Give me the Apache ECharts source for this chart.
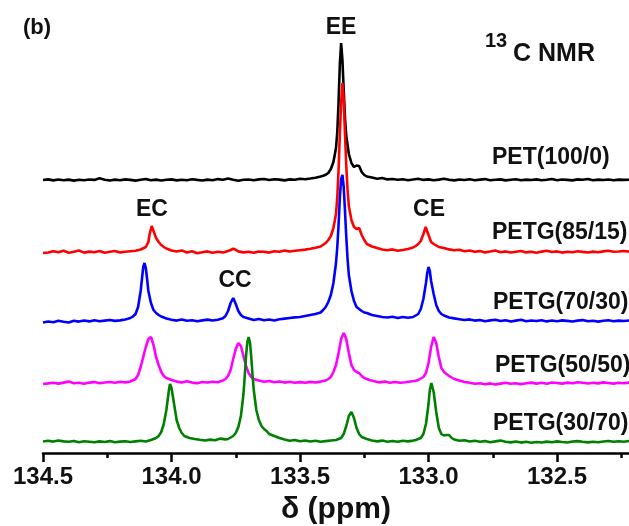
<!DOCTYPE html>
<html>
<head>
<meta charset="utf-8">
<script src="https://cdn.jsdelivr.net/npm/echarts@6.0.0/dist/echarts.min.js"></script>
<style>
html,body{margin:0;padding:0;background:#fff;}
#chart{width:629px;height:526px;}
</style>
</head>
<body>
<div id="chart"></div>
<script>
// ---- Data (ppm, intensity above each trace's own baseline) ----
const seriesNames = ['PET(100/0)', 'PETG(85/15)', 'PETG(70/30)', 'PETG(50/50)', 'PETG(30/70)'];
const offsets = [273, 201, 132, 70, 11];
const majorTicks = [134.5, 134.0, 133.5, 133.0, 132.5];
const minorTicks = [134.25, 133.75, 133.25, 132.75, 132.25];

const pet100 = [
[134.50,0],[134.48,0.6],[134.46,-0.4],[134.44,0.5],[134.42,-0.3],[134.40,0.4],[134.38,-0.6],[134.36,0.2],[134.34,-0.2],[134.32,0.5],[134.30,0.1],[134.28,1.8],[134.26,0.3],[134.24,-0.5],[134.22,0.4],[134.20,-0.2],[134.18,0.6],[134.16,0.1],[134.14,-0.6],[134.12,0.3],[134.10,1.0],[134.08,-0.3],[134.06,0.4],[134.04,-0.5],[134.02,0.2],[134.00,0.6],[133.98,-0.4],[133.96,0.3],[133.94,-0.2],[133.92,0.8],[133.90,0.1],[133.88,-0.5],[133.86,0.4],[133.84,-0.2],[133.82,0.9],[133.80,0.2],[133.78,1.4],[133.76,0.3],[133.74,-0.7],[133.72,0.2],[133.70,0.5],[133.68,-0.3],[133.66,0.6],[133.64,1.0],[133.62,0.0],[133.60,0.7],[133.58,0.4],[133.56,-0.4],[133.54,0.6],[133.52,0.2],[133.50,1.2],[133.48,0.8],[133.46,1.5],[133.44,2.3],[133.42,3.4],[133.41,4.2],[133.40,5.2],[133.39,7],[133.38,11],[133.37,18],[133.36,32],[133.355,48],[133.35,78],[133.345,116],[133.34,137],[133.335,120],[133.33,90],[133.325,62],[133.32,44],[133.31,26],[133.30,17],[133.29,13],[133.28,14.5],[133.275,16],[133.27,14],[133.26,8],[133.25,5],[133.24,3.5],[133.22,2.4],[133.20,1.2],[133.18,2.0],[133.16,0.6],[133.14,1.0],[133.12,0.2],[133.10,0.8],[133.08,-0.2],[133.06,0.5],[133.04,1.2],[133.02,0.1],[133.00,0.6],[132.98,-0.3],[132.96,0.4],[132.94,1.3],[132.92,0.2],[132.90,-0.4],[132.88,0.5],[132.86,0.0],[132.84,0.7],[132.82,-0.3],[132.80,0.4],[132.78,0.9],[132.76,-0.2],[132.74,0.3],[132.72,0.6],[132.70,-0.4],[132.68,0.2],[132.66,0.8],[132.64,-0.3],[132.62,0.4],[132.60,0.0],[132.58,0.6],[132.56,-0.3],[132.54,0.2],[132.52,1.0],[132.50,-0.2],[132.48,0.5],[132.46,0.1],[132.44,-0.4],[132.42,0.6],[132.40,0.2],[132.38,1.0],[132.36,-0.2],[132.34,0.4],[132.32,0.0],[132.30,0.5],[132.28,-0.3],[132.26,0.4],[132.24,0.1],[132.22,0.3]
];

const petg85 = [
[134.50,-1],[134.48,-0.5],[134.46,0.8],[134.44,-0.3],[134.42,1.2],[134.40,-0.8],[134.38,0.3],[134.36,1.5],[134.34,-0.6],[134.32,0.4],[134.30,-0.2],[134.28,0.9],[134.26,-0.7],[134.24,0.2],[134.22,1.0],[134.20,-0.4],[134.18,0.3],[134.16,0.8],[134.14,1.2],[134.12,2.5],[134.10,5],[134.09,10],[134.085,18],[134.077,26],[134.07,21],[134.06,14],[134.05,10],[134.04,7],[134.03,5],[134.02,3.5],[134.00,1.5],[133.98,0.4],[133.96,1.6],[133.94,-0.5],[133.92,0.8],[133.90,-1.2],[133.88,-0.3],[133.86,0.6],[133.84,-0.8],[133.82,0.2],[133.80,-0.5],[133.78,1.0],[133.77,2.0],[133.76,3.2],[133.75,2.2],[133.74,0.6],[133.72,-0.4],[133.70,0.3],[133.68,-0.8],[133.66,0.5],[133.64,0.2],[133.62,-0.6],[133.60,0.8],[133.58,0.2],[133.56,1.4],[133.54,0.5],[133.52,1.2],[133.50,1.8],[133.48,2.4],[133.46,3.2],[133.44,4.2],[133.42,5.5],[133.40,9],[133.39,12],[133.38,16],[133.37,24],[133.36,38],[133.355,55],[133.35,82],[133.345,118],[133.34,150],[133.335,169],[133.33,152],[133.325,118],[133.32,86],[133.315,62],[133.31,46],[133.30,32],[133.29,25],[133.28,23],[133.27,24],[133.265,22],[133.26,17],[133.25,12],[133.24,8],[133.22,5.5],[133.20,4],[133.18,2.5],[133.16,1.8],[133.14,2.6],[133.12,1.2],[133.10,2.0],[133.08,3.0],[133.06,4.5],[133.05,6],[133.04,8],[133.03,11],[133.02,18],[133.011,25],[133.00,17],[132.99,10],[132.98,8],[132.97,6.5],[132.96,5],[132.94,4],[132.92,2.6],[132.90,1.8],[132.88,2.2],[132.86,0.8],[132.84,1.5],[132.82,0.2],[132.80,0.9],[132.78,-0.4],[132.76,0.5],[132.74,1.5],[132.72,-0.2],[132.70,0.6],[132.68,-0.5],[132.66,0.3],[132.64,1.0],[132.62,-0.4],[132.60,0.2],[132.58,-0.8],[132.56,0.4],[132.54,1.2],[132.52,0.0],[132.50,0.6],[132.48,-0.6],[132.46,0.3],[132.44,-0.3],[132.42,0.8],[132.40,0.1],[132.38,-0.5],[132.36,0.4],[132.34,-0.2],[132.32,0.6],[132.30,1.2],[132.28,0.2],[132.26,0.5],[132.24,1.0],[132.22,0.4]
];

const petg70 = [
[134.50,-1.5],[134.48,-0.5],[134.46,-1.2],[134.44,0.2],[134.42,-0.8],[134.40,-1.5],[134.38,0.3],[134.36,-0.6],[134.34,0.5],[134.32,-0.4],[134.30,0.8],[134.28,-0.2],[134.26,0.4],[134.24,1.0],[134.22,0.1],[134.20,0.6],[134.18,1.5],[134.17,2.2],[134.16,3],[134.15,4.5],[134.14,7],[134.13,14],[134.12,30],[134.115,42],[134.11,54],[134.105,58],[134.10,53],[134.095,42],[134.09,30],[134.08,18],[134.07,11],[134.06,8],[134.05,6],[134.04,4.5],[134.03,3.6],[134.02,2.4],[134.00,1.2],[133.98,0.4],[133.96,1.5],[133.94,0.2],[133.92,0.8],[133.90,-0.3],[133.88,0.6],[133.86,1.4],[133.84,0.5],[133.82,1.2],[133.80,2.8],[133.79,5],[133.78,10],[133.77,18],[133.76,23],[133.75,17],[133.74,10],[133.73,6],[133.72,4],[133.70,2.5],[133.68,1.0],[133.66,2.0],[133.64,0.8],[133.62,1.5],[133.60,0.5],[133.58,1.8],[133.56,2.4],[133.54,3.0],[133.52,3.6],[133.50,4],[133.48,5],[133.46,6],[133.44,7],[133.42,8.5],[133.41,11],[133.40,14],[133.39,19],[133.38,26],[133.37,38],[133.36,58],[133.355,74],[133.35,96],[133.345,124],[133.34,142],[133.335,146],[133.33,134],[133.325,110],[133.32,84],[133.315,62],[133.31,46],[133.30,30],[133.29,20],[133.28,14],[133.27,12],[133.26,10],[133.25,8.5],[133.24,8],[133.22,6],[133.20,5],[133.18,4],[133.16,3.5],[133.14,4.2],[133.12,3],[133.10,4],[133.08,3.2],[133.06,4],[133.05,5.5],[133.04,7],[133.03,12],[133.02,22],[133.01,38],[133.005,48],[133.00,54],[132.995,50],[132.99,40],[132.98,27],[132.97,16],[132.96,10],[132.95,7],[132.94,5.5],[132.93,4.5],[132.92,3.5],[132.90,2.6],[132.88,1.8],[132.86,1.0],[132.84,1.6],[132.82,0.4],[132.80,1.0],[132.78,-0.2],[132.76,0.6],[132.74,1.3],[132.72,0.0],[132.70,0.7],[132.68,-0.5],[132.66,0.4],[132.64,1.2],[132.62,-0.3],[132.60,0.5],[132.58,0.0],[132.56,0.8],[132.54,-0.4],[132.52,0.5],[132.50,-0.2],[132.48,0.6],[132.46,0.1],[132.44,-0.5],[132.42,0.4],[132.40,0.9],[132.38,-0.3],[132.36,0.3],[132.34,-0.6],[132.32,0.2],[132.30,0.7],[132.28,-0.2],[132.26,0.4],[132.24,0.0],[132.22,0.5]
];

const petg50 = [
[134.50,-1],[134.48,-0.4],[134.46,0.3],[134.44,-0.6],[134.42,0.4],[134.40,1.4],[134.38,-0.3],[134.36,0.2],[134.34,-0.8],[134.32,0.4],[134.30,0.9],[134.28,-0.2],[134.26,0.5],[134.24,1.0],[134.22,0.2],[134.20,1.2],[134.18,0.6],[134.16,1.5],[134.14,4],[134.13,8],[134.12,16],[134.11,26],[134.10,36],[134.09,44],[134.08,46],[134.07,38],[134.06,26],[134.05,18],[134.04,11],[134.03,7],[134.02,5],[134.00,3],[133.98,1.4],[133.96,0.6],[133.94,1.8],[133.92,0.4],[133.90,-0.2],[133.88,1.0],[133.86,0.5],[133.84,1.2],[133.82,0.8],[133.80,2.5],[133.79,4],[133.78,7],[133.77,13],[133.76,24],[133.75,34],[133.74,40],[133.73,37],[133.72,27],[133.71,17],[133.70,10],[133.69,6],[133.68,4],[133.66,2.5],[133.64,1.2],[133.62,2.0],[133.60,0.8],[133.58,1.5],[133.56,0.4],[133.54,1.2],[133.52,0.2],[133.50,0.9],[133.48,0.3],[133.46,1.1],[133.44,0.5],[133.42,1.4],[133.40,2.5],[133.39,4],[133.38,6],[133.37,11],[133.36,18],[133.35,30],[133.34,44],[133.33,50],[133.32,44],[133.31,30],[133.30,18],[133.29,13],[133.28,11],[133.27,10],[133.26,7],[133.25,5],[133.23,3],[133.21,1.8],[133.19,0.6],[133.17,1.4],[133.15,0.3],[133.13,1.0],[133.11,0.2],[133.09,0.8],[133.07,1.5],[133.05,2.2],[133.04,3],[133.02,6],[133.01,10],[133.00,20],[132.99,36],[132.98,46],[132.97,40],[132.96,26],[132.95,15],[132.94,11],[132.93,9],[132.92,7],[132.90,4],[132.88,2.5],[132.86,1.0],[132.84,0.2],[132.82,-0.8],[132.80,-0.2],[132.78,-1.2],[132.76,-0.4],[132.74,-1.5],[132.72,-0.6],[132.70,0.3],[132.68,-0.8],[132.66,-0.2],[132.64,-1.2],[132.62,-0.3],[132.60,0.4],[132.58,-0.6],[132.56,0.2],[132.54,-0.8],[132.52,0.5],[132.50,0.0],[132.48,-0.6],[132.46,0.4],[132.44,-0.3],[132.42,0.8],[132.40,0.2],[132.38,-0.5],[132.36,0.3],[132.34,-0.4],[132.32,0.6],[132.30,0.0],[132.28,-0.6],[132.26,0.3],[132.24,-0.2],[132.22,0.4]
];

const petg30 = [
[134.50,0.5],[134.48,1.2],[134.46,0.4],[134.44,1.5],[134.42,0.6],[134.40,0.2],[134.38,1.0],[134.36,-0.2],[134.34,0.8],[134.32,0.3],[134.30,-0.3],[134.28,0.6],[134.26,0.0],[134.24,0.9],[134.22,-0.2],[134.20,0.4],[134.18,0.8],[134.16,0.0],[134.14,0.6],[134.12,1.2],[134.10,0.5],[134.08,2],[134.06,4],[134.05,6],[134.04,10],[134.03,18],[134.02,32],[134.01,52],[134.006,58],[134.00,54],[133.99,38],[133.98,22],[133.97,14],[133.96,9],[133.95,6],[133.93,4],[133.91,3],[133.89,2.2],[133.87,1.5],[133.85,2.4],[133.83,1.8],[133.81,3.4],[133.79,2.6],[133.78,3],[133.77,4.5],[133.76,6],[133.75,9],[133.74,15],[133.73,26],[133.72,48],[133.715,66],[133.71,86],[133.705,100],[133.70,105],[133.695,100],[133.69,86],[133.685,68],[133.68,52],[133.67,32],[133.66,22],[133.65,16],[133.64,13],[133.63,11],[133.62,8],[133.60,6],[133.58,4],[133.56,2.5],[133.54,1.2],[133.52,2.0],[133.50,0.8],[133.48,1.5],[133.46,0.5],[133.44,1.2],[133.42,0.2],[133.40,0.9],[133.38,1.5],[133.36,2],[133.34,4],[133.33,8],[133.32,16],[133.31,26],[133.30,30],[133.29,24],[133.28,14],[133.27,8],[133.26,5],[133.24,3],[133.22,1.5],[133.20,0.6],[133.18,1.4],[133.16,0.3],[133.14,1.0],[133.12,0.2],[133.10,1.2],[133.08,0.6],[133.06,1.4],[133.05,2],[133.03,4],[133.02,8],[133.01,18],[133.00,38],[132.995,52],[132.989,59],[132.98,50],[132.97,30],[132.96,14],[132.95,8],[132.94,6.5],[132.93,7],[132.92,7],[132.91,4],[132.90,2.5],[132.88,1.2],[132.86,1.8],[132.84,0.5],[132.82,1.2],[132.80,0.3],[132.78,0.9],[132.76,-0.2],[132.74,0.6],[132.72,1.4],[132.70,0.2],[132.68,-0.4],[132.66,0.5],[132.64,-0.6],[132.62,0.2],[132.60,-0.8],[132.58,0.0],[132.56,-0.5],[132.54,0.4],[132.52,-0.3],[132.50,0.6],[132.48,0.0],[132.46,-0.5],[132.44,0.5],[132.42,0.9],[132.40,0.2],[132.38,-0.4],[132.36,0.3],[132.34,-0.2],[132.32,0.5],[132.30,1.0],[132.28,0.3],[132.26,0.8],[132.24,0.2],[132.22,1.0]
];

const spectra = [pet100, petg85, petg70, petg50, petg30];
const colors = ['#000000', '#ff0000', '#0000ff', '#ff00ff', '#008000'];

// ---- Chart ----
const FONT = '"Liberation Sans", Arial, sans-serif';
const chart = echarts.init(document.getElementById('chart'), null, {renderer: 'canvas'});

const series = spectra.map((pts, i) => ({
  name: seriesNames[i],
  type: 'line',
  showSymbol: false,
  symbol: 'none',
  animation: false,
  lineStyle: {color: colors[i], width: 2.6},
  itemStyle: {color: colors[i]},
  data: pts.map(p => [p[0], p[1] + offsets[i]])
}));

function txt(text, x, y, size, align) {
  return {
    type: 'text', x: x, y: y, z: 100,
    style: {text: text, fill: '#111', fontSize: size, fontWeight: 'bold', fontFamily: FONT,
            align: align || 'left', verticalAlign: 'middle'}
  };
}

const labelY = [157.5, 232.5, 302.5, 366, 424];

chart.setOption({
  backgroundColor: '#ffffff',
  animation: false,
  grid: {left: 43, right: 0, top: 0, bottom: 73, containLabel: false, outerBoundsMode: 'none'},
  xAxis: [
    {
      type: 'value', inverse: true, min: 132.22, max: 134.5, position: 'bottom',
      axisLine: {lineStyle: {color: '#000', width: 2.5}},
      axisTick: {customValues: majorTicks, length: 9, lineStyle: {color: '#000', width: 2.5}},
      axisLabel: {customValues: majorTicks, formatter: v => Number(v).toFixed(1), fontSize: 24,
                  fontWeight: 'bold', fontFamily: FONT, color: '#111', margin: 12},
      splitLine: {show: false},
      name: 'δ (ppm)', nameLocation: 'middle', nameGap: 42,
      nameTextStyle: {fontSize: 30, fontWeight: 'bold', fontFamily: FONT, color: '#111'}
    },
    {
      type: 'value', inverse: true, min: 132.22, max: 134.5, position: 'bottom',
      axisLine: {show: false},
      axisTick: {customValues: minorTicks, length: 5, lineStyle: {color: '#000', width: 2.5}},
      axisLabel: {show: false},
      splitLine: {show: false}
    }
  ],
  yAxis: {type: 'value', min: 0, max: 453, show: false},
  series: series,
  graphic: [
    txt('(b)', 23, 27.5, 22),
    txt('EE', 341, 27.5, 23, 'center'),
    txt('EC', 152, 210, 23, 'center'),
    txt('CC', 235, 280.5, 23, 'center'),
    txt('CE', 429, 209.5, 23, 'center'),
    txt('13', 485, 41.5, 20),
    txt('C NMR', 513, 54, 25),
    txt(seriesNames[0], 492, labelY[0], 23),
    txt(seriesNames[1], 492, labelY[1], 23),
    txt(seriesNames[2], 493, labelY[2], 23),
    txt(seriesNames[3], 495, labelY[3], 23),
    txt(seriesNames[4], 493, labelY[4], 23)
  ]
});
</script>
</body>
</html>
